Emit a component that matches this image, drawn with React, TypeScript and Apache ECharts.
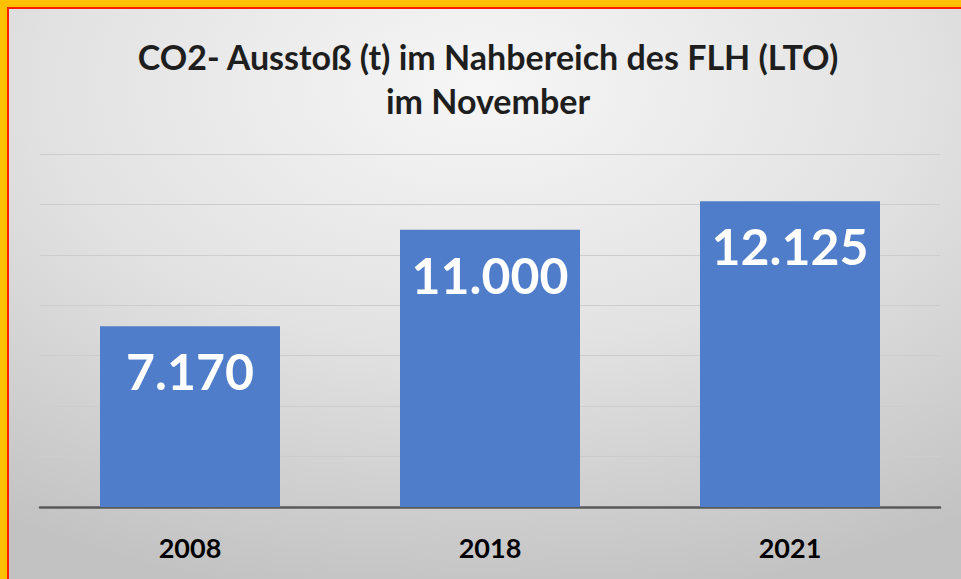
import React, { useEffect, useRef } from "react";
import * as echarts from "echarts";

const categories = ["2008", "2018", "2021"];
const values = [7170, 11000, 12125];
const titleLines = ["CO2- Ausstoß (t) im Nahbereich des FLH (LTO)", "im November"];
const yMax = 14000;
const yInterval = 2000;

function fmt(v: number): string {
  return v.toLocaleString("de-DE", { minimumFractionDigits: 0 });
}

export default function App() {
  const ref = useRef<HTMLDivElement>(null);
  useEffect(() => {
    document.body.style.margin = "0";
    const chart = echarts.init(ref.current!, undefined, { renderer: "svg" });
    chart.setOption({
      animation: false,
      backgroundColor: {
        type: "radial",
        x: 0.5,
        y: 0.15,
        r: 0.9,
        colorStops: [
          { offset: 0, color: "#f6f6f6" },
          { offset: 0.5, color: "#e2e2e2" },
          { offset: 1, color: "#c2c2c2" },
        ],
      },
      graphic: [
        { type: "rect", shape: { x: 0, y: 0, width: 961, height: 7 }, style: { fill: "#FFC000" }, silent: true },
        { type: "rect", shape: { x: 0, y: 0, width: 7, height: 579 }, style: { fill: "#FFC000" }, silent: true },
        { type: "rect", shape: { x: 7, y: 7, width: 954, height: 2 }, style: { fill: "#FF1a00" }, silent: true },
        { type: "rect", shape: { x: 7, y: 7, width: 2, height: 572 }, style: { fill: "#FF1a00" }, silent: true },
        {
          type: "text",
          x: 488,
          y: 56,
          style: {
            text: titleLines[0],
            font: "bold 34px Lato",
            fill: "#1e1e1e",
            textAlign: "center",
            textVerticalAlign: "middle",
          },
        },
        {
          type: "text",
          x: 488,
          y: 100,
          style: {
            text: titleLines[1],
            font: "bold 34px Lato",
            fill: "#1e1e1e",
            textAlign: "center",
            textVerticalAlign: "middle",
          },
        },
      ],
      grid: { left: 40, right: 21, top: 154, bottom: 72, containLabel: false },
      xAxis: {
        type: "category",
        data: categories,
        axisLine: { lineStyle: { color: "#595959", width: 2.5 } },
        axisTick: { show: false },
        axisLabel: {
          color: "#000000",
          fontFamily: "Lato",
          fontWeight: "bold",
          fontSize: 27,
          margin: 27,
        },
      },
      yAxis: {
        type: "value",
        min: 0,
        max: yMax,
        interval: yInterval,
        axisLabel: { show: false },
        axisLine: { show: false },
        axisTick: { show: false },
        splitLine: { lineStyle: { color: "#cdcdcd", width: 1 } },
      },
      series: [
        {
          type: "bar",
          data: values,
          barWidth: "60%",
          itemStyle: { color: "#4F7DC9" },
          label: {
            show: true,
            position: "insideTop",
            distance: 20,
            formatter: (p: any) => fmt(p.value),
            color: "#ffffff",
            fontFamily: "Lato",
            fontWeight: "bold",
            fontSize: 50,
            lineHeight: 50,
          },
        },
      ],
    });
    return () => chart.dispose();
  }, []);
  return <div ref={ref} style={{ width: 961, height: 579 }} />;
}
